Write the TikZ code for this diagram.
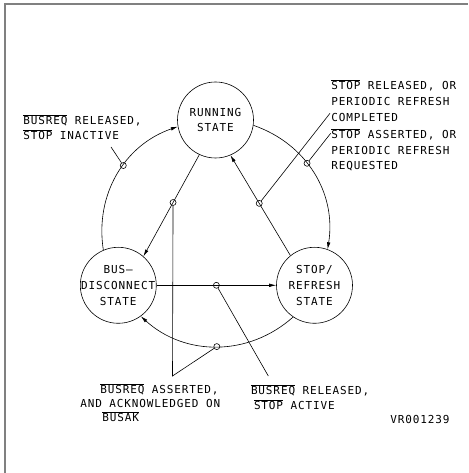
\documentclass[tikz,border=0pt]{standalone}
\usepackage{fontspec}
\newfontfamily\plotfont{DejaVu Sans Mono}[LetterSpace=8]
\usetikzlibrary{arrows.meta}
\newcommand\ovl[1]{$\overline{\hbox{#1}}$}
\newcommand\cl[1]{\makebox[0pt]{#1}}
\tikzset{
  st/.style   ={circle,draw,minimum size=76pt,inner sep=0pt,align=center},
  tap/.style  ={circle,draw,minimum size=6pt,inner sep=0pt},
  flow/.style ={-{Latex[length=7pt,width=3.5pt]}},
  lbl/.style  ={anchor=base west,inner sep=0pt,align=left},
}

\begin{document}
\begin{tikzpicture}[x=1pt,y=1pt,line width=0.6pt,
    font=\plotfont\fontsize{11}{15.7}\selectfont]
  \useasboundingbox (0,0) rectangle (468,473);
  % sheet edge
  \draw[gray,line width=1.6pt] (5,0) -- (5,469) -- (468,469);

  % states
  \node[st] (run)  at (215.5,353) {RUNNING\\STATE};
  \node[st] (bus)  at (118.3,187.7) {BUS–\\\cl{DISCONNECT}\\STATE};
  \node[st] (stop) at (314.5,187.7) {STOP/\\REFRESH\\STATE};

  % transitions round the ring
  \draw[flow] (bus.113) to[bend left=40] node[tap,pos=0.57] (dl) {} (run.190);
  \draw[flow] (run.-8) to[bend left=40] node[tap,pos=0.42] (dr) {} (stop.70);
  \draw[flow] (stop.236) to[bend left=42] node[tap,pos=0.5] (db) {} (bus.-54);

  % transitions across
  \draw[flow] (run.245) -- node[tap,pos=0.47] (dRB) {} (bus.49);
  \draw[flow] (stop.129) -- node[tap,pos=0.52] (dSR) {} (run.293);
  \draw[flow] (bus.east) -- node[tap] (dBS) {} (stop.west);

  % leaders
  \coordinate (tlE)  at (111,326);
  \coordinate (tr1E) at (330,359.7);
  \coordinate (tr2E) at (330.7,339.7);
  \coordinate (vTip) at (172.5,97);
  \coordinate (brE)  at (268.3,97);
  \draw (dl) -- (tlE);
  \draw (dSR) -- (tr1E);
  \draw (dr) -- (tr2E);
  \draw (dRB) -- (vTip) -- (db);
  \draw (dBS) -- (brE);

  % conditions (base = last line)
  \node[lbl] (cTL) at (23,333) {\ovl{BUSREQ} RELEASED,\\\ovl{STOP} INACTIVE};
  \node[lbl] (cTR1) at (331,351.7) {\ovl{STOP} RELEASED, OR\\PERIODIC REFRESH\\COMPLETED};
  \node[lbl] (cTR2) at (331,303) {\ovl{STOP} ASSERTED, OR\\PERIODIC REFRESH\\REQUESTED};
  \node[lbl,font=\plotfont\fontsize{11}{14}\selectfont] (cBL) at (80,51)
    {\hspace*{20pt}\ovl{BUSREQ} ASSERTED,\\AND ACKNOWLEDGED ON\\\hspace*{22pt}\ovl{BUSAK}};
  \node[lbl,font=\plotfont\fontsize{11}{15.3}\selectfont] (cBR) at (250.7,63)
    {\ovl{BUSREQ} RELEASED,\\\hspace*{3pt}\ovl{STOP} ACTIVE};
  \node[lbl] (tag) at (390,49) {VR001239};
\end{tikzpicture}
\end{document}
